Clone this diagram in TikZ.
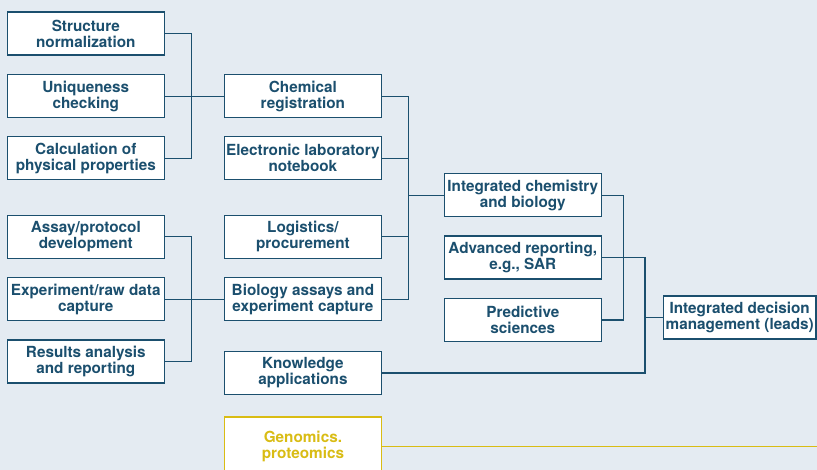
\documentclass[tikz,border=0pt]{standalone}
\usepackage{fontspec}
\setmainfont{TeX Gyre Heros}
\definecolor{ink}{HTML}{1B4F6E}
\definecolor{paper}{HTML}{E4EBF2}
\definecolor{gold}{HTML}{D9BC14}
\begin{document}
\begin{tikzpicture}[x=1pt,y=-1pt,
  box/.style={draw=ink, line width=1.4pt, fill=white, text=ink,
    font=\fontsize{15.3}{16}\selectfont\bfseries, align=center,
    minimum width=157pt, minimum height=43pt, inner sep=0pt},
  link/.style={draw=ink, line width=1.3pt},
  goldbox/.style={box, draw=gold, text=gold, minimum height=59pt},
  goldlink/.style={draw=gold, line width=1.3pt}]
\fill[paper] (0,0) rectangle (817,470);
\useasboundingbox (0,0) rectangle (817,470);
\clip (0,0) rectangle (817,470);

% first column: chemistry and biology tasks
\node[box] (sn) at (85.8,33.7) {Structure\\normalization};
\node[box] (uc) at (85.8,96.2) {Uniqueness\\checking};
\node[box] (cp) at (85.8,158.3) {Calculation of\\physical properties};
\node[box] (ap) at (85.8,236.8) {Assay/protocol\\development};
\node[box] (ex) at (85.8,299.2) {Experiment/raw data\\capture};
\node[box] (ra) at (85.8,361.7) {Results analysis\\and reporting};

% second column: systems
\node[box] (cr) at (302.9,96.2) {Chemical\\registration};
\node[box] (eln) at (302.9,158.3) {Electronic laboratory\\notebook};
\node[box] (lp) at (302.9,236.8) {Logistics/\\procurement};
\node[box] (ba) at (302.9,299.2) {Biology assays and\\experiment capture};
\node[box] (ka) at (302.9,373) {Knowledge\\applications};
\node[goldbox] (gp) at (302.9,446.3) {Genomics.\\proteomics};

% third column: integration
\node[box] (icb) at (522.8,195.3) {Integrated chemistry\\and biology};
\node[box] (ar) at (522.8,257.7) {Advanced reporting,\\e.g., SAR};
\node[box] (ps) at (522.8,320) {Predictive\\sciences};

% final column
\node[box, minimum width=152.7pt] (idm) at (739.7,317.7) {Integrated decision\\management (leads)};

% bracket joints
\coordinate (j1) at (191.7,96.2);
\coordinate (j2) at (191.7,299.2);
\coordinate (j3) at (408.3,195.3);
\coordinate (j4) at (623.3,257.7);
\coordinate (j5) at (645,317.7);
\coordinate (gend) at (817,446.3);

\draw[link] (sn.east) -| (j1) |- (cp.east);
\draw[link] (uc.east) -- (cr.west);
\draw[link] (ap.east) -| (j2) |- (ra.east);
\draw[link] (ex.east) -- (ba.west);
\draw[link] (cr.east) -| (j3) |- (ba.east);
\draw[link] (eln.east) -| (j3);
\draw[link] (lp.east) -| (j3);
\draw[link] (j3) -- (icb.west);
\draw[link] (icb.east) -| (j4) |- (ps.east);
\draw[link] (ar.east) -| (j5) -- (idm.west);
\draw[link] (ka.east) -| (j5);
\draw[goldlink] (gp.east) -- (gend);
\end{tikzpicture}
\end{document}
